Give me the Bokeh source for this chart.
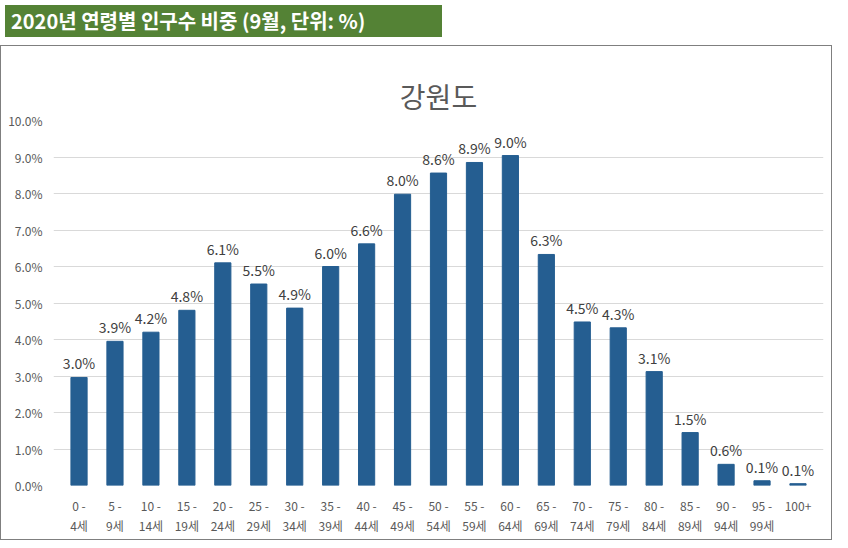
from bokeh.plotting import figure
from bokeh.layouts import column
from bokeh.models import Div, ColumnDataSource, NumeralTickFormatter, FixedTicker
from bokeh.core.properties import value
from bokeh.embed import file_html
from bokeh.resources import INLINE

header = "2020년 연령별 인구수 비중 (9월, 단위: %)"
title = "강원도"
categories = ["0 -\n4세","5 -\n9세","10 -\n14세","15 -\n19세","20 -\n24세","25 -\n29세","30 -\n34세",
              "35 -\n39세","40 -\n44세","45 -\n49세","50 -\n54세","55 -\n59세","60 -\n64세","65 -\n69세",
              "70 -\n74세","75 -\n79세","80 -\n84세","85 -\n89세","90 -\n94세","95 -\n99세","100+"]
values = [2.96,3.95,4.2,4.8,6.1,5.52,4.86,6.0,6.62,7.98,8.56,8.85,9.04,6.33,4.48,4.32,3.12,1.45,0.58,0.13,0.05]
labels = ["3.0%","3.9%","4.2%","4.8%","6.1%","5.5%","4.9%","6.0%","6.6%","8.0%","8.6%","8.9%","9.0%",
          "6.3%","4.5%","4.3%","3.1%","1.5%","0.6%","0.1%","0.1%"]

FONT = "Noto Sans CJK KR"
src = ColumnDataSource(dict(x=categories, top=[v/100 for v in values], lab=labels))

div = Div(text=header, width=437, height=32, styles={
    "background-color": "#548235", "color": "white", "font-weight": "bold",
    "font-size": "20px", "font-family": FONT, "padding": "0px 6px", "line-height": "32px",
    "box-sizing": "border-box", "white-space": "nowrap", "overflow": "hidden"})

p = figure(x_range=categories, y_range=(0, 0.1), width=832, height=495,
           output_backend="svg", toolbar_location=None,
           min_border_left=52, min_border_right=10, min_border_top=74, min_border_bottom=56)
p.styles = {"border": "1px solid #7f7f7f", "box-sizing": "border-box"}
p.title.text = title
p.title.align = "center"
p.title.text_font = FONT
p.title.text_font_size = "28px"
p.title.text_font_style = "normal"
p.title.text_color = "#595959"
p.outline_line_color = None
p.vbar(x="x", top="top", width=0.45, source=src, color="#255E91")
p.text(x="x", y="top", text="lab", source=src, text_align="center", text_baseline="bottom",
       y_offset=-4, text_font=value(FONT), text_font_size="14px", text_color="#404040")
p.yaxis.ticker = FixedTicker(ticks=[i/100 for i in range(11)])
p.yaxis.formatter = NumeralTickFormatter(format="0.0%")
for ax in (p.xaxis, p.yaxis):
    ax.axis_line_color = None
    ax.major_tick_line_color = None
    ax.minor_tick_line_color = None
    ax.major_label_text_font = FONT
    ax.major_label_text_font_size = "12px"
    ax.major_label_text_color = "#595959"
p.xgrid.grid_line_color = None
p.ygrid.grid_line_color = "#d9d9d9"
p.x_range.range_padding = 0.02

lay = column(div, p, spacing=3)
open("out.html", "w").write(file_html(lay, INLINE))
